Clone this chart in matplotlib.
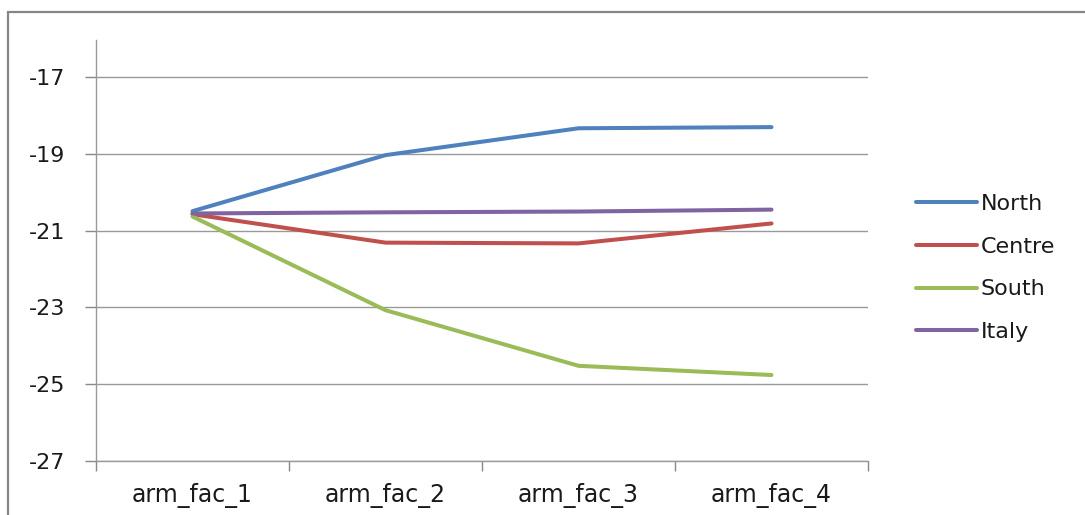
import matplotlib.pyplot as plt
from matplotlib.patches import Rectangle

categories = ['arm_fac_1', 'arm_fac_2', 'arm_fac_3', 'arm_fac_4']
north = [-20.49, -19.03, -18.33, -18.30]
centre = [-20.57, -21.31, -21.33, -20.81]
south = [-20.63, -23.07, -24.52, -24.76]
italy = [-20.55, -20.52, -20.50, -20.45]

series = [('North', north, '#4F81BD'),
          ('Centre', centre, '#C0504D'),
          ('South', south, '#9BBB59'),
          ('Italy', italy, '#8064A2')]

plt.rcParams['font.family'] = ['DejaVu Sans']
W, H = 1085, 515
fig = plt.figure(figsize=(W / 100, H / 100), dpi=100)

# outer chart frame (only top and left edges visible)
fig.patches.append(Rectangle((8 / W, -0.1), 1.2, 1 - 12 / H + 0.1,
                             transform=fig.transFigure, fill=False,
                             edgecolor='#868686', linewidth=1.6))

ax = fig.add_axes([96 / W, (H - 461) / H, (868 - 96) / W, (461 - 40) / H])
x = list(range(len(categories)))
for name, vals, col in series:
    ax.plot(x, vals, color=col, linewidth=2.9, label=name, solid_capstyle='round')

ax.set_xlim(-0.5, 3.5)
ax.set_ylim(-27, -16.03)
ax.set_yticks([-27, -25, -23, -21, -19, -17])
ax.set_yticklabels(['-27', '-25', '-23', '-21', '-19', '-17'])
ax.set_xticks(x)
ax.set_xticklabels(categories)
ax.set_xticks([-0.5, 0.5, 1.5, 2.5, 3.5], minor=True)
ax.tick_params(axis='x', which='major', length=0, pad=16, labelsize=17, colors='#1a1a1a')
ax.tick_params(axis='x', which='minor', length=7, width=1, color='#888888', direction='out')
ax.tick_params(axis='y', length=8, width=1, color='#888888', pad=14, labelsize=16,
               labelcolor='#1a1a1a')
ax.yaxis.grid(True, color='#999999', linewidth=1)
ax.set_axisbelow(True)
for s in ['top', 'right']:
    ax.spines[s].set_visible(False)
for s in ['left', 'bottom']:
    ax.spines[s].set_color('#999999')
    ax.spines[s].set_linewidth(1)

leg = ax.legend(loc='upper left', bbox_to_anchor=(905 / W, (H - 183) / H),
                bbox_transform=fig.transFigure, frameon=False, fontsize=16,
                handlelength=2.75, handletextpad=0.15, labelspacing=1.02,
                borderpad=0)
for t in leg.get_texts():
    t.set_color('#1a1a1a')

fig.savefig('out.png', dpi=100)
